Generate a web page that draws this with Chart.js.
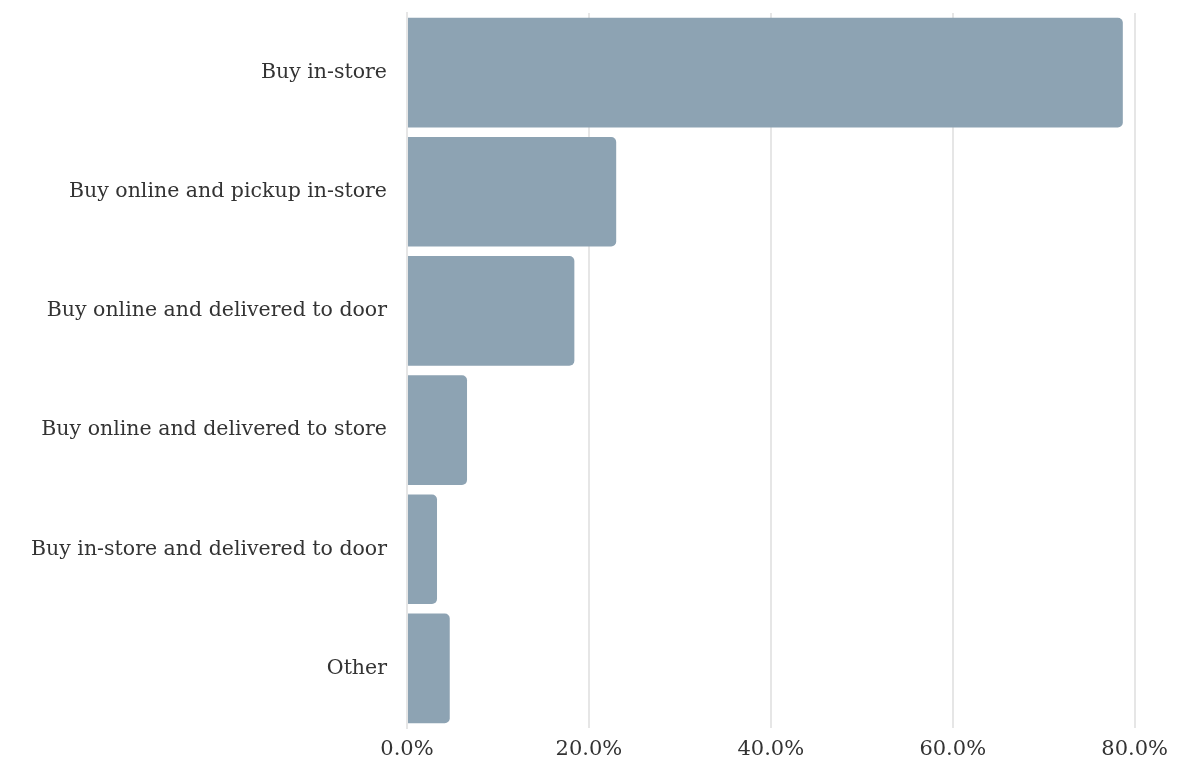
<!DOCTYPE html>
<html lang="en">
<head>
  <meta charset="UTF-8">
  <title>Purchase channels</title>
  <script src="https://cdn.jsdelivr.net/npm/chart.js"></script>
  <style>
    html, body { margin: 0; padding: 0; background: #fff; }
    .wrap { width: 1177px; height: 758px; }
  </style>
</head>
<body>
<div class="wrap"><canvas id="chart"></canvas></div>
<script>
  const categories = [
    'Buy in-store',
    'Buy online and pickup in-store',
    'Buy online and delivered to door',
    'Buy online and delivered to store',
    'Buy in-store and delivered to door',
    'Other'
  ];
  const shares = [78.7, 23.0, 18.4, 6.6, 3.3, 4.7];
  const xTicks = [0, 20, 40, 60, 80];

  const family = "'DejaVu Serif', serif";

  new Chart(document.getElementById('chart'), {
    type: 'bar',
    data: {
      labels: categories,
      datasets: [{
        data: shares,
        backgroundColor: '#8da3b3',
        borderRadius: { topRight: 5, bottomRight: 5 },
        borderSkipped: 'start',
        barPercentage: 0.92,
        categoryPercentage: 1
      }]
    },
    options: {
      indexAxis: 'y',
      responsive: true,
      maintainAspectRatio: false,
      animation: false,
      layout: { padding: { left: 10, right: 37, top: 13, bottom: 0 } },
      plugins: { legend: { display: false }, tooltip: { enabled: false } },
      scales: {
        x: {
          min: 0,
          max: 80,
          afterBuildTicks: s => { s.ticks = xTicks.map(v => ({ value: v })); },
          afterFit: s => { s.height = 30; },
          grid: { color: '#e6e6e6', lineWidth: 2, drawTicks: false },
          border: { display: false },
          ticks: {
            font: { family: family, size: 21 },
            color: '#333',
            padding: 9,
            maxRotation: 0,
            callback: v => v.toFixed(1) + '%'
          }
        },
        y: {
          afterFit: s => { s.width = 397; s.paddingTop = 0; s.paddingBottom = 0; },
          grid: { display: false, drawTicks: false },
          border: { display: true, color: '#e6e6e6', width: 2 },
          ticks: { font: { family: family, size: 20.5 }, color: '#333', padding: 20 }
        }
      }
    }
  });
</script>
</body>
</html>
